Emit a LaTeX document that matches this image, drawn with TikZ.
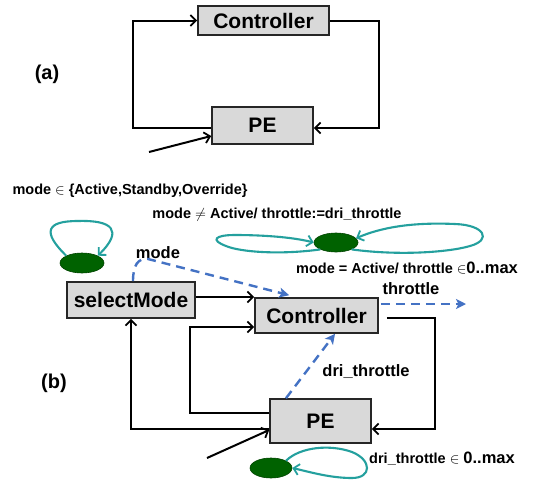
\documentclass[tikz,border=0pt]{standalone}
\usepackage{fontspec}
\setmainfont{Liberation Sans}
\usetikzlibrary{arrows.meta,shapes.geometric,calc}

\definecolor{boxfill}{RGB}{217,217,217}
\definecolor{stategreen}{RGB}{0,98,0}
\definecolor{loopteal}{RGB}{36,160,158}
\definecolor{flowblue}{RGB}{68,114,196}

\begin{document}
\begin{tikzpicture}[x=1pt,y=-1pt,
  block/.style={draw=black!85,line width=1.6pt,fill=boxfill,inner sep=0pt,
    font=\fontsize{21}{23}\selectfont\bfseries},
  wire/.style={line width=2pt,-{Straight Barb[length=5.5pt,width=11pt,line width=1.8pt]}},
  flow/.style={draw=flowblue,line width=2.4pt,dash pattern=on 9pt off 6pt,
    -{Stealth[length=10pt,width=10pt,inset=2.5pt]}},
  state/.style={ellipse,draw=stategreen!70!black,line width=0.6pt,fill=stategreen,inner sep=0pt},
  selfloop/.style={draw=loopteal,line width=2.1pt,
    -{Straight Barb[length=5.5pt,width=11pt,line width=1.8pt]}},
  tag/.style={font=\fontsize{20}{22}\selectfont\bfseries},
  cond/.style={font=\fontsize{14.5}{16}\selectfont\bfseries,inner sep=0pt},
  signal/.style={font=\fontsize{16.5}{18}\selectfont\bfseries,inner sep=0pt}
]
\useasboundingbox (0,0) rectangle (533,483);
\fill[white] (0,0) rectangle (533,483);

% ---------- (a) plain feedback loop ----------
\node[block,minimum width=131pt,minimum height=29pt] (ctrlA) at (263.5,20.5) {Controller};
\node[block,minimum width=101pt,minimum height=37pt] (peA) at (262.5,125.5) {PE};
\node[tag] (labA) at (47,74) {(a)};

\coordinate (aLeft) at (133,0);
\coordinate (aRight) at (379,0);
\coordinate (peAw) at ([yshift=-2.5pt]peA.west);
\coordinate (peAe) at ([yshift=-2.5pt]peA.east);
\coordinate (inA) at (149,152);

\draw[wire] (peAw) -| (aLeft |- ctrlA.west) -- (ctrlA.west);
\draw[wire] (ctrlA.east) -| (aRight |- peAe) -- (peAe);
\draw[wire] (inA) -- ([yshift=-10.5pt]peA.west);

% ---------- (b) refined model ----------
\node[block,minimum width=128pt,minimum height=36pt] (sm) at (131,300) {selectMode};
\node[block,minimum width=123pt,minimum height=35pt] (ctrlB) at (316.5,315.5) {Controller};
\node[block,minimum width=101pt,minimum height=44pt] (peB) at (320.5,421) {PE};
\node[tag] (labB) at (54,383) {(b)};

% state machines
\node[state,minimum width=44pt,minimum height=20pt] (e1) at (82,263) {};
\node[state,minimum width=44pt,minimum height=19pt] (e2) at (336,242.5) {};
\node[state,minimum width=42pt,minimum height=20pt] (e3) at (271,468) {};

% labels
\node[cond] (c1) at (130,191) {mode $\in$ \{Active,Standby,Override\}};
\node[cond] (c2) at (277,215) {mode $\neq$ Active/ throttle:=dri\_throttle};
\node[cond] (c3) at (407,268) {mode = Active/ throttle $\in${\fontsize{16.5}{18}\selectfont 0..max}};
\node[cond] (c4) at (442,459) {dri\_throttle $\in$ {\fontsize{16.5}{18}\selectfont 0..max}};
\node[signal] (sMode) at (158,253) {mode};
\node[signal] (sThr) at (411,289) {throttle};
\node[signal] (sDri) at (366,372) {dri\_throttle};

% black data lines
\coordinate (smOut) at ([yshift=3pt]sm.east);
\draw[wire] (smOut) -- (smOut -| ctrlB.west);

\coordinate (bLoop) at (190,0);
\coordinate (peBw1) at ([yshift=8pt]peB.west);
\coordinate (ctrlBw) at ([yshift=-11.5pt]ctrlB.west);
\draw[wire] (peBw1) -| (bLoop |- ctrlBw) -- (ctrlBw);

\coordinate (peBw2) at ([yshift=-8pt]peB.west);
\draw[wire] (peBw2) -| (sm.south);

\coordinate (bRight) at (435,0);
\coordinate (ctrlBe) at ([xshift=8pt,yshift=-2.5pt]ctrlB.east);
\coordinate (peBe) at ([yshift=-8pt]peB.east);
\draw[wire] (ctrlBe) -| (bRight |- peBe) -- (peBe);

\coordinate (inB) at (207,458);
\draw[wire] (inB) -- ([yshift=-9pt]peB.west);

% dashed signal flows
\coordinate (smTop) at ([xshift=2pt]sm.north);
\draw[flow] (smTop) .. controls (133,265) and (138,258) .. (148,259) -- ([xshift=35pt,yshift=2pt]ctrlB.north west);
\draw[flow] ([xshift=-34.5pt]peB.north) -- ([xshift=18.5pt]ctrlB.south);
\coordinate (thrEnd) at (466,304);
\draw[flow] ([xshift=2pt,yshift=11.5pt]ctrlB.east) -- (thrEnd);

% self loops of the state machines
\draw[selfloop] (e1.north west) .. controls (42,232) and (46,221) .. (78,221)
  .. controls (112,220) and (124,230) .. (e1.north east);
\draw[selfloop] (e2.south west) .. controls (280,255) and (240,252) .. (226,246)
  .. controls (210,240) and (215,235) .. (235,235)
  .. controls (262,235) and (292,237) .. (e2.west);
\draw[selfloop] (e2.south east) .. controls (400,256) and (450,252) .. (470,246)
  .. controls (492,240) and (485,225) .. (455,224)
  .. controls (410,222) and (380,228) .. (e2.12);
\draw[selfloop] (e3.north east) .. controls (300,447) and (330,444) .. (352,452)
  .. controls (372,460) and (372,478) .. (352,478)
  .. controls (330,478) and (310,472) .. (e3.east);
\end{tikzpicture}
\end{document}
